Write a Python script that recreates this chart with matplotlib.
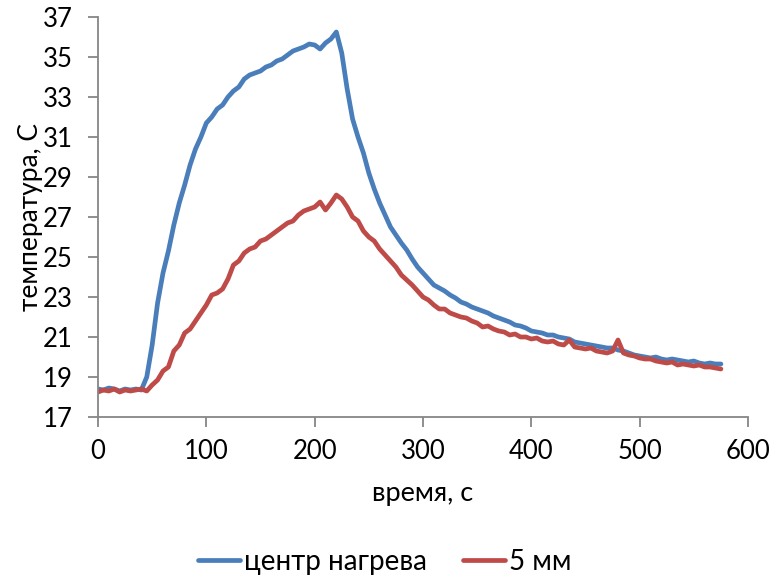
import matplotlib
matplotlib.use("Agg")
import matplotlib.pyplot as plt

# time, s (one reading every 5 s)
time_s = list(range(0, 580, 5))

# центр нагрева
center = [
    18.4, 18.35, 18.45, 18.4, 18.3, 18.4, 18.35, 18.4, 18.35, 19.0,
    20.6, 22.7, 24.2, 25.3, 26.6, 27.7, 28.6, 29.6, 30.4, 31.0,
    31.7, 32.0, 32.4, 32.6, 33.0, 33.3, 33.5, 33.9, 34.1, 34.2,
    34.3, 34.5, 34.6, 34.8, 34.9, 35.1, 35.3, 35.4, 35.5, 35.65,
    35.6, 35.4, 35.7, 35.9, 36.25, 35.2, 33.4, 31.9, 31.0, 30.2,
    29.2, 28.4, 27.7, 27.1, 26.5, 26.1, 25.7, 25.35, 24.9, 24.5,
    24.2, 23.9, 23.6, 23.45, 23.3, 23.1, 22.95, 22.75, 22.65, 22.5,
    22.4, 22.3, 22.2, 22.05, 21.95, 21.85, 21.75, 21.6, 21.55, 21.45,
    21.3, 21.25, 21.2, 21.1, 21.1, 21.0, 20.95, 20.9, 20.75, 20.7,
    20.65, 20.6, 20.55, 20.5, 20.45, 20.45, 20.35, 20.3, 20.2, 20.1,
    20.05, 20.0, 19.95, 20.0, 19.9, 19.85, 19.9, 19.85, 19.8, 19.75,
    19.8, 19.7, 19.65, 19.7, 19.65, 19.65,
]

# 5 мм
mm5 = [
    18.25, 18.35, 18.3, 18.4, 18.25, 18.35, 18.3, 18.35, 18.4, 18.3,
    18.6, 18.85, 19.3, 19.5, 20.3, 20.6, 21.2, 21.4, 21.8, 22.2,
    22.6, 23.1, 23.2, 23.4, 23.9, 24.6, 24.8, 25.2, 25.4, 25.5,
    25.8, 25.9, 26.1, 26.3, 26.5, 26.7, 26.8, 27.1, 27.3, 27.4,
    27.5, 27.75, 27.35, 27.7, 28.1, 27.9, 27.5, 27.0, 26.8, 26.3,
    26.0, 25.8, 25.4, 25.1, 24.8, 24.5, 24.1, 23.85, 23.6, 23.3,
    23.0, 22.85, 22.6, 22.4, 22.4, 22.2, 22.1, 22.0, 21.95, 21.8,
    21.7, 21.5, 21.55, 21.4, 21.3, 21.25, 21.1, 21.15, 21.0, 21.0,
    20.9, 20.95, 20.8, 20.75, 20.8, 20.65, 20.6, 20.85, 20.5, 20.45,
    20.4, 20.45, 20.3, 20.25, 20.2, 20.3, 20.85, 20.2, 20.1, 20.05,
    19.95, 19.9, 19.9, 19.8, 19.75, 19.7, 19.75, 19.6, 19.65, 19.6,
    19.55, 19.6, 19.5, 19.5, 19.45, 19.4,
]

x_ticks = [0, 100, 200, 300, 400, 500, 600]
y_ticks = [17, 19, 21, 23, 25, 27, 29, 31, 33, 35, 37]

plt.rcParams["font.family"] = ["Lato", "DejaVu Sans"]

fig = plt.figure(figsize=(7.73, 5.82), dpi=100)
ax = fig.add_axes([98 / 773, 1 - 417 / 582, 650 / 773, 400 / 582])

ax.plot(time_s, center, color="#4a7ebb", lw=3.4, label="центр нагрева",
        solid_capstyle="round", solid_joinstyle="round")
ax.plot(time_s, mm5, color="#be4b48", lw=3.4, label="5 мм",
        solid_capstyle="round", solid_joinstyle="round")

ax.set_xlim(0, 600)
ax.set_ylim(17, 37)
ax.set_xticks(x_ticks)
ax.set_yticks(y_ticks)

for side in ["top", "right"]:
    ax.spines[side].set_visible(False)
for side in ["left", "bottom"]:
    ax.spines[side].set_color("#868686")
    ax.spines[side].set_linewidth(1.3)

ax.tick_params(axis="both", direction="out", length=7, width=1.3,
               color="#868686", labelsize=18.5, labelcolor="black")
ax.tick_params(axis="x", pad=9)
ax.tick_params(axis="y", pad=11)

ax.set_xlabel("время, с", fontsize=19.5, labelpad=12)
ax.set_ylabel("температура, С", fontsize=19, labelpad=0)

fig.legend(loc="center", bbox_to_anchor=(385 / 773, 1 - 562 / 582), ncol=2,
           frameon=False, fontsize=20, handlelength=1.5, handletextpad=0.15,
           columnspacing=1.3)

fig.savefig("out.png", dpi=100)
